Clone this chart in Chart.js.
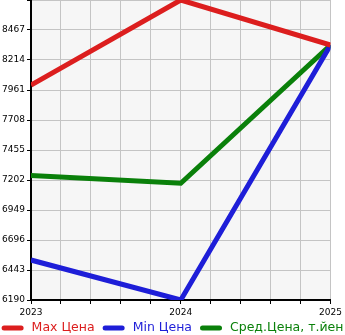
<!DOCTYPE html>
<html>
<head>
<meta charset="utf-8">
<script src="https://cdn.jsdelivr.net/npm/chart.js@4.4.0/dist/chart.umd.min.js"></script>
<style>
    html, body { margin: 0; padding: 0; background: #fff; }
    #wrap { width: 345px; height: 335px; position: relative; }
</style>
</head>
<body>
<div id="wrap"><canvas id="priceChart"></canvas></div>
<script>
// Chart data
const years = [2023, 2024, 2025];
const maxPrice = [8003, 8720, 8340];
const minPrice = [6527, 6190, 8340];
const avgPrice = [7240, 7174, 8340];
const seriesNames = ['Max Цена', 'Min Цена', 'Сред.Цена, т.йен'];
const yTicks = [6190, 6443, 6696, 6949, 7202, 7455, 7708, 7961, 8214, 8467, 8720];

const colors = ['#dc1e1e', '#1e1ed8', '#0a800a'];
const legendFont = '12.5px "DejaVu Sans"';

// light gray plot background
const plotBg = {
    id: 'plotBg',
    beforeDraw(chart) {
        const a = chart.chartArea;
        const ctx = chart.ctx;
        ctx.save();
        ctx.fillStyle = '#f6f6f6';
        ctx.fillRect(a.left, a.top, a.right - a.left, a.bottom - a.top);
        ctx.restore();
    }
};

// legend drawn by hand: thick rounded swatch + coloured text
const lineLegend = {
    id: 'lineLegend',
    afterDraw(chart) {
        const ctx = chart.ctx;
        const sets = chart.data.datasets;
        const swatch = 22, gap = 8, y = 328;
        ctx.save();
        ctx.font = legendFont;
        const widths = sets.map(ds => ctx.measureText(ds.label).width);
        let total = 0;
        widths.forEach((w, i) => { total += swatch + gap + w + (i < widths.length - 1 ? gap : 0); });
        let x = (chart.width - total) / 2;
        sets.forEach((ds, i) => {
            ctx.strokeStyle = ds.borderColor;
            ctx.lineWidth = 5;
            ctx.lineCap = 'round';
            ctx.beginPath();
            ctx.moveTo(x + 2.5, y);
            ctx.lineTo(x + swatch - 2.5, y);
            ctx.stroke();
            ctx.fillStyle = ds.borderColor;
            ctx.textBaseline = 'middle';
            ctx.textAlign = 'left';
            ctx.fillText(ds.label, x + swatch + gap, y);
            x += swatch + gap + widths[i] + gap;
        });
        ctx.restore();
    }
};

function makeSet(i, values) {
    return {
        label: seriesNames[i],
        data: years.map((y, k) => ({ x: y, y: values[k] })),
        borderColor: colors[i],
        backgroundColor: colors[i],
        borderWidth: 5,
        pointRadius: 0,
        tension: 0,
        fill: false
    };
}

new Chart(document.getElementById('priceChart'), {
    type: 'line',
    data: {
        datasets: [
            makeSet(0, maxPrice),
            makeSet(1, minPrice),
            makeSet(2, avgPrice)
        ]
    },
    plugins: [plotBg, lineLegend],
    options: {
        responsive: true,
        maintainAspectRatio: false,
        animation: false,
        layout: { padding: { left: 0, right: 14, top: 0, bottom: 20 } },
        plugins: {
            tooltip: { enabled: false },
            legend: { display: false }
        },
        scales: {
            x: {
                type: 'linear',
                min: years[0],
                max: years[years.length - 1],
                afterFit(scale) { scale.height = 15; },
                border: { color: '#000', width: 2 },
                grid: { color: '#c4c4c4', tickColor: '#000', tickLength: 4 },
                ticks: {
                    stepSize: 0.2,
                    autoSkip: false,
                    maxRotation: 0,
                    color: '#000',
                    padding: 3,
                    font: { family: 'DejaVu Sans', size: 9 },
                    callback: v => (Math.abs(v - Math.round(v)) < 1e-6 ? String(Math.round(v)) : '')
                }
            },
            y: {
                min: yTicks[0],
                max: yTicks[yTicks.length - 1],
                afterFit(scale) {
                    scale.width = 31;
                    scale.paddingTop = 0;
                    scale.paddingBottom = 0;
                },
                afterBuildTicks(scale) { scale.ticks = yTicks.map(v => ({ value: v })); },
                border: { color: '#000', width: 2 },
                grid: { color: '#c4c4c4', tickColor: '#000', tickLength: 4 },
                ticks: {
                    color: '#000',
                    padding: 2,
                    font: { family: 'DejaVu Sans', size: 9 },
                    callback: v => (v === yTicks[yTicks.length - 1] ? '' : String(v))
                }
            }
        }
    }
});
</script>
</body>
</html>
